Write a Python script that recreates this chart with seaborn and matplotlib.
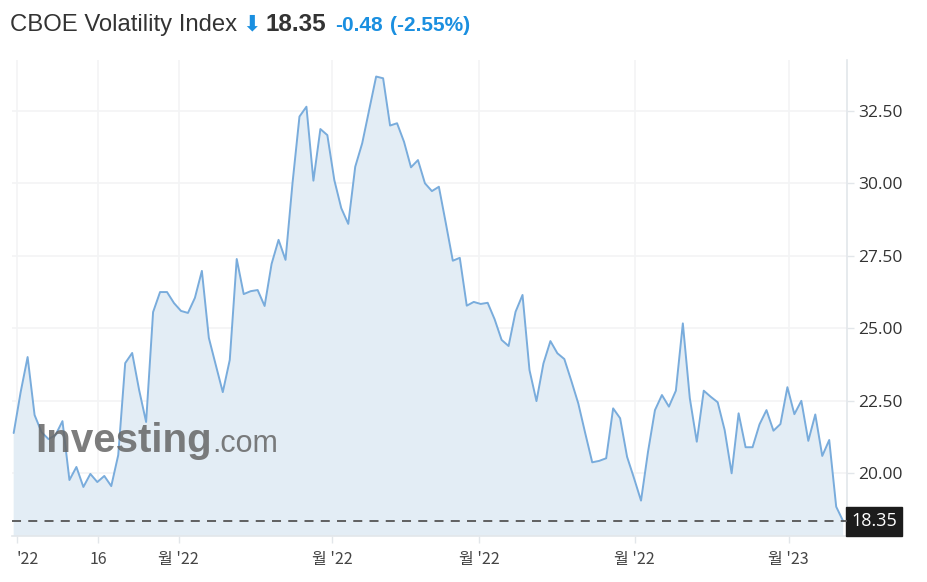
import matplotlib
matplotlib.use("Agg")
import matplotlib.pyplot as plt
import seaborn as sns
import numpy as np
import pandas as pd

# VIX close values (left to right)
vix_values = [
    21.39, 22.80, 24.01, 22.01, 21.42, 21.18, 21.32, 21.80, 19.77, 20.22,
    19.53, 19.98, 19.70, 19.91, 19.56, 20.63, 23.80, 24.15, 22.87, 21.77,
    25.56, 26.25, 26.25, 25.87, 25.60, 25.53, 26.05, 26.98, 24.67, 23.73,
    22.80, 23.91, 27.39, 26.18, 26.28, 26.32, 25.77, 27.22, 28.05, 27.36,
    30.00, 32.30, 32.64, 30.09, 31.87, 31.66, 30.11, 29.14, 28.60, 30.57,
    31.38, 32.53, 33.68, 33.62, 31.99, 32.07, 31.43, 30.55, 30.80, 30.00,
    29.73, 29.88, 28.62, 27.33, 27.43, 25.78, 25.91, 25.84, 25.88, 25.31,
    24.60, 24.39, 25.57, 26.15, 23.56, 22.49, 23.79, 24.56, 24.14, 23.94,
    23.19, 22.41, 21.38, 20.38, 20.43, 20.52, 22.24, 21.90, 20.57, 19.83,
    19.06, 20.74, 22.18, 22.70, 22.30, 22.85, 25.17, 22.59, 21.09, 22.85,
    22.64, 22.45, 21.49, 20.00, 22.07, 20.90, 20.90, 21.69, 22.18, 21.47,
    21.70, 22.97, 22.04, 22.50, 21.12, 22.03, 20.60, 21.15, 18.85, 18.35,
]
last_price = 18.35
change = "-0.48"
change_pct = "(-2.55%)"

x_tick_pos = [0.43, 12.1, 23.66, 45.67, 66.75, 89.07, 111.19]
x_tick_labels = ["'22", "16", "월 '22", "월 '22", "월 '22", "월 '22", "월 '23"]
y_ticks = [20.0, 22.5, 25.0, 27.5, 30.0, 32.5]

df = pd.DataFrame({"idx": np.arange(len(vix_values)), "vix": vix_values})

sns.set_theme(style="white")
plt.rcParams["font.family"] = ["Open Sans", "DejaVu Sans"]

W, H = 928, 582
fig = plt.figure(figsize=(W / 100, H / 100), dpi=100)
ax = fig.add_axes([12 / W, (H - 536) / H, (847 - 12) / W, (536 - 60) / H])

line_col = "#79acdc"
ax.fill_between(df["idx"], df["vix"], 0, color="#e3edf5", lw=0, zorder=1)
sns.lineplot(data=df, x="idx", y="vix", ax=ax, color=line_col, lw=1.4, zorder=3)

# last price dashed line
ax.axhline(last_price, color="#555555", lw=1.3, ls=(0, (5, 4)), zorder=4)

ax.set_xlim(-0.24, 119.55)
ax.set_ylim(17.84, 34.25)

ax.set_yticks(y_ticks)
ax.set_yticklabels([f"{v:.2f}" for v in y_ticks])
ax.set_xticks(x_tick_pos)
ax.set_xticklabels(x_tick_labels)
ax.grid(True, color="#f3f4f5", lw=1.2, zorder=0)
ax.set_axisbelow(True)

ax.yaxis.tick_right()
ax.tick_params(axis="y", which="both", right=True, length=5, width=1, color="#e2e6ea",
               labelsize=12.5, labelcolor="#333333", pad=3)
ax.tick_params(axis="x", bottom=True, length=5, width=1, color="#e2e6ea",
               labelsize=11.5, labelcolor="#444444", pad=6)
for lab in ax.get_xticklabels():
    lab.set_family(["Noto Sans CJK KR", "DejaVu Sans"])
ax.get_xticklabels()[0].set_horizontalalignment("left")

for s in ["top", "left"]:
    ax.spines[s].set_visible(False)
for s in ["right", "bottom"]:
    ax.spines[s].set_color("#e2e6ea")
    ax.spines[s].set_linewidth(1.2)
ax.set_xlabel("")
ax.set_ylabel("")

# price badge on the right axis
ax.annotate(f"{last_price:.2f}", xy=(1.0, last_price), xycoords=("axes fraction", "data"),
            xytext=(3, 0), textcoords="offset points", ha="left", va="center",
            fontsize=13, color="white",
            bbox=dict(boxstyle="square,pad=0.3", fc="#1c1c1c", ec="#1c1c1c"))

# watermark
fig.text(35 / W, 1 - 452 / H, "Investing", fontsize=29, fontweight="bold",
         family="Liberation Sans", color="#666666", alpha=0.85, va="baseline", zorder=5)
fig.text(212 / W, 1 - 452 / H, ".com", fontsize=22,
         family="Liberation Sans", color="#666666", alpha=0.85, va="baseline", zorder=5)

# header
ty = 1 - 31 / H
fig.text(10 / W, ty, "CBOE Volatility Index", fontsize=17.2, family="Liberation Sans",
         color="#333333", va="baseline")
fig.text(242 / W, ty + 1 / H, "⬇", fontsize=16, family="DejaVu Sans", color="#1a8fe0",
         va="baseline")
fig.text(266 / W, ty, f"{last_price:.2f}", fontsize=17.5, fontweight="bold",
         family="Liberation Sans", color="#333333", va="baseline")
fig.text(335 / W, ty, change, fontsize=15, fontweight="bold", family="Liberation Sans",
         color="#1a8fe0", va="baseline")
fig.text(390 / W, ty, change_pct, fontsize=15, fontweight="bold", family="Liberation Sans",
         color="#1a8fe0", va="baseline")

fig.savefig("out.png", dpi=100)
